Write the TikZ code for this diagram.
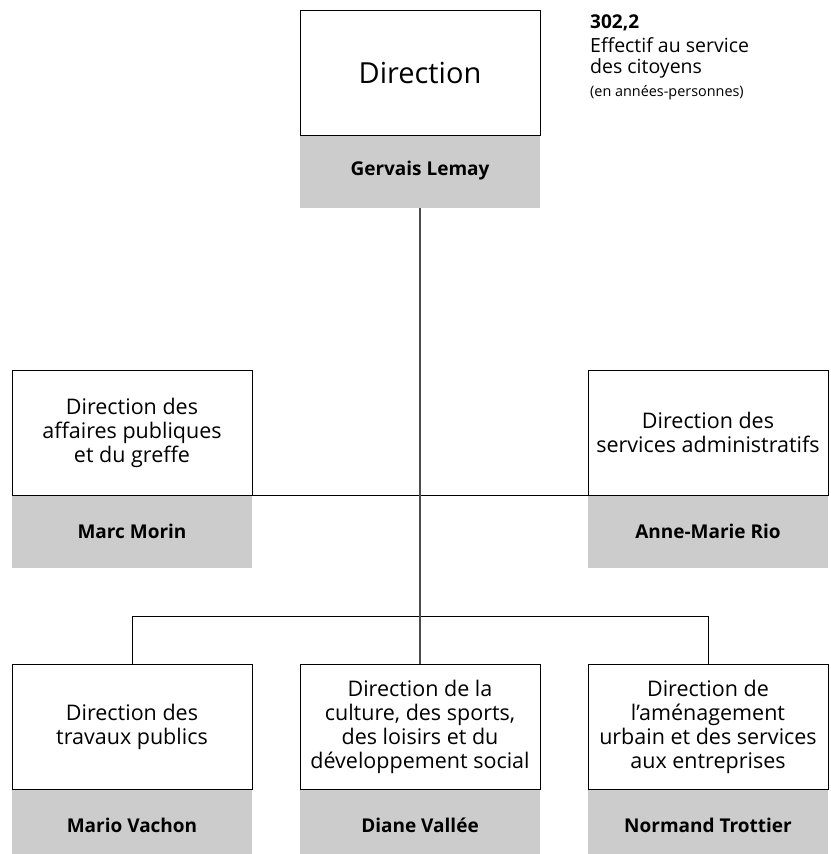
\documentclass[tikz,border=0pt]{standalone}
\usepackage{fontspec}
\setmainfont{Open Sans}
\begin{document}
\begin{tikzpicture}[x=1pt,y=-1pt,
  unit/.style={draw=black, line width=1pt, fill=white, minimum width=240pt, minimum height=125pt,
    inner sep=0pt, align=center, font=\fontsize{21.5}{24}\selectfont},
  head/.style={fill=black!20, minimum width=240pt, minimum height=73pt, inner sep=0pt,
    align=center, font=\bfseries\fontsize{19}{22}\selectfont},
  note/.style={anchor=base west, inner sep=0pt},
  link/.style={draw=black, line width=1pt},
  trunk/.style={draw=black!70, line width=1.6pt}]
\clip (0,0) rectangle (830,854);
\fill[white] (0,0) rectangle (830,854);
% name boxes
\node[head] (topn) at (420,171) {Gervais Lemay};
\node[head] (ln) at (132,531.5) {Marc Morin};
\node[head] (rn) at (708,531.5) {Anne-Marie Rio};
\node[head] (b1n) at (132,825.5) {Mario Vachon};
\node[head] (b2n) at (420,825.5) {Diane Vallée};
\node[head] (b3n) at (708,825.5) {Normand Trottier};
% unit boxes
\node[unit, font=\fontsize{29}{34}\selectfont] (top) at (420,72.5) {Direction};
\node[unit] (l) at (132,432.5) {Direction des\\affaires publiques\\et du greffe};
\node[unit] (r) at (708,432.5) {Direction des\\services administratifs};
\node[unit] (b1) at (132,726.5) {Direction des\\travaux publics};
\node[unit] (b2) at (420,726.5) {Direction de la\\culture, des sports,\\des loisirs et du\\développement social};
\node[unit] (b3) at (708,726.5) {Direction de\\l’aménagement\\urbain et des services\\aux entreprises};
% side note
\node[note, font=\bfseries\fontsize{19}{22}\selectfont] (n1) at (590,28) {302,2};
\node[note, font=\fontsize{19.5}{22}\selectfont] (n2) at (590,52.5) {Effectif au service};
\node[note, font=\fontsize{19.5}{22}\selectfont] (n3) at (590,73.5) {des citoyens};
\node[note, font=\fontsize{14.4}{17}\selectfont] (n4) at (590,96) {(en années-personnes)};
% connectors
\coordinate (j) at (420,616);
\draw[link] (l.south east) -- (r.south west);
\draw[link] (b1.north) -- (b1.north |- j) -- (b3.north |- j) -- (b3.north);
\draw[trunk] (topn.south) -- (b2.north);
\end{tikzpicture}
\end{document}
